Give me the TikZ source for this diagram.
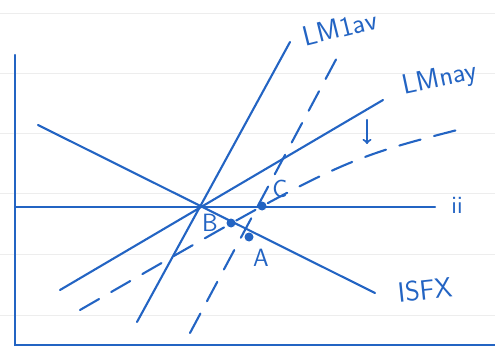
\documentclass[tikz,border=0pt]{standalone}
\usetikzlibrary{positioning}
\definecolor{ink}{RGB}{35,100,195}
\begin{document}
\begin{tikzpicture}[
    x=1pt, y=-1pt,
    every node/.style={font=\sffamily\fontsize{25}{28}\selectfont, text=ink, inner sep=1pt},
    tag/.style={font=\sffamily\fontsize{28}{30}\selectfont},
    curve/.style={draw=ink, line width=2.1pt, line cap=round},
    shifted/.style={curve, dash pattern=on 22pt off 14pt},
    point/.style={circle, fill=ink, inner sep=0pt, minimum size=9pt},
    paper/.style={draw=black!7, line width=0.6pt}
]
\useasboundingbox (0,0) rectangle (495,350);
% ruled paper
\foreach \y in {13,73,133,193,254,315}
  \draw[paper] (0,\y) -- (495,\y);

% axes
\coordinate (top) at (15,55);
\coordinate (origin) at (15,345);
\coordinate (far) at (495,345);
\draw[curve] (top) -- (origin) -- (far);

% interest rate line
\coordinate (iiL) at (15,207);
\coordinate (iiR) at (435,207);
\node (ii) at (457,205) {ii};
\draw[curve] (iiL) -- (iiR);

% curves through B
\coordinate (lmaS) at (137,322);
\coordinate (lmaE) at (290,42);
\node[tag, rotate=14] (lma) at (340,28) {LM1av};
\draw[curve] (lmaS) -- (lmaE);

\coordinate (lmnS) at (60,290);
\coordinate (lmnE) at (383,100);
\node[tag, rotate=12] (lmn) at (440,80) {LMnay};
\draw[curve] (lmnS) -- (lmnE);

\coordinate (isS) at (38,125);
\coordinate (isE) at (375,293);
\node[tag, rotate=6] (isfx) at (425,290) {ISFX};
\draw[curve] (isS) -- (isE);

% shifted curves
\coordinate (lmdS) at (190,333);
\coordinate (lmdE) at (340,52);
\draw[shifted] (lmdS) -- (lmdE);

\coordinate (lmlS) at (80,310);
\coordinate (lmlE) at (465,128);
\draw[shifted] (lmlS) .. controls (340,160) .. (lmlE);

\coordinate (downT) at (367,120);
\coordinate (downB) at (367,144);
\draw[curve, ->] (downT) -- (downB);

% equilibrium points
\node[point] (pB) at (231,223) {};
\node[point] (pA) at (249,237) {};
\node[point] (pC) at (262,206) {};
\node (labB) at (210,223) {B};
\node (labA) at (261,258) {A};
\node (labC) at (280,189) {C};
\end{tikzpicture}
\end{document}
